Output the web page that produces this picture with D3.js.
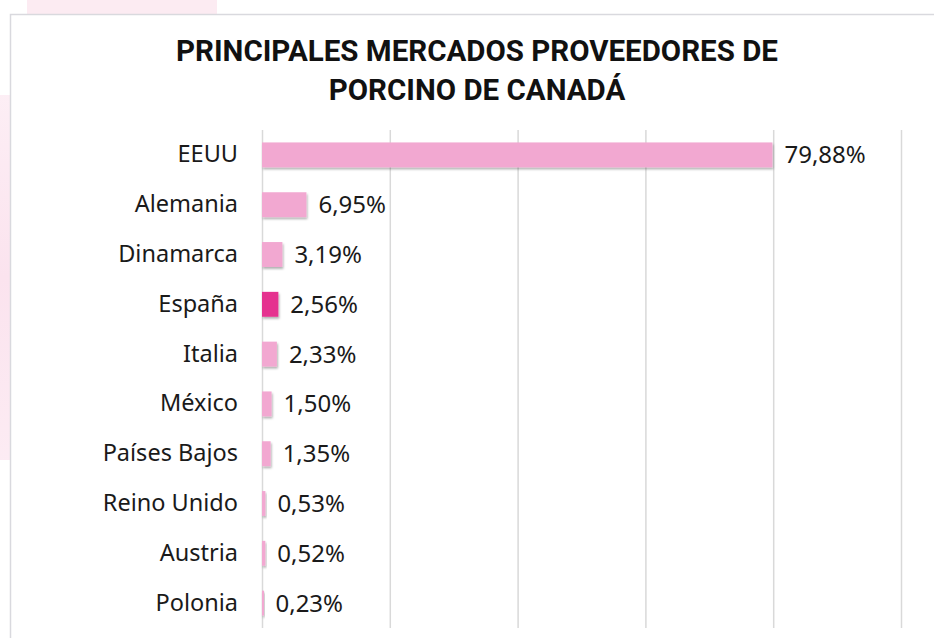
<!DOCTYPE html>
<html>
<head>
<meta charset="utf-8">
<script src="https://cdn.jsdelivr.net/npm/d3@7"></script>
<style>
  body { margin: 0; background: #fff; }
  svg { display: block; }
</style>
</head>
<body>
<div id="chart"></div>
<script>
var svgWidth = 934;
var svgHeight = 638;

// data
var countries = ['EEUU', 'Alemania', 'Dinamarca', 'España', 'Italia', 'México', 'Países Bajos', 'Reino Unido', 'Austria', 'Polonia'];
var shares = [79.88, 6.95, 3.19, 2.56, 2.33, 1.50, 1.35, 0.53, 0.52, 0.23];
var highlight = 'España';
var xTicks = [0, 20, 40, 60, 80, 100];
var titleLines = ['PRINCIPALES MERCADOS PROVEEDORES DE', 'PORCINO DE CANADÁ'];

var data = countries.map((c, i) => ({country: c, value: shares[i]}));

var margin = {top: 130, bottom: 10, left: 262, right: 33};
var chartWidth = svgWidth - margin.left - margin.right;
var chartHeight = svgHeight - margin.top - margin.bottom;

var svg = d3.select('#chart')
    .append('svg')
    .attr('width', svgWidth)
    .attr('height', svgHeight);

// shadow filter for the bars
var defs = svg.append('defs');
var shadow = defs.append('filter')
    .attr('id', 'shadow')
    .attr('x', '-20%').attr('y', '-20%')
    .attr('width', '160%').attr('height', '160%');
shadow.append('feDropShadow')
    .attr('dx', 1).attr('dy', 2)
    .attr('stdDeviation', 1.2)
    .attr('flood-color', '#000')
    .attr('flood-opacity', 0.3);

var fade = defs.append('linearGradient')
    .attr('id', 'fade').attr('x1', 0).attr('x2', 0).attr('y1', 0).attr('y2', 1);
fade.append('stop').attr('offset', '0%').attr('stop-color', '#fbe3ee').attr('stop-opacity', 0.6);
fade.append('stop').attr('offset', '50%').attr('stop-color', '#fbe3ee').attr('stop-opacity', 1);
fade.append('stop').attr('offset', '100%').attr('stop-color', '#fbe3ee').attr('stop-opacity', 0.7);

// background pink decorations behind the frame
svg.append('rect')
    .attr('x', 27).attr('y', 0)
    .attr('width', 190).attr('height', 14)
    .attr('fill', '#fcebf2');
svg.append('rect')
    .attr('x', 0).attr('y', 95)
    .attr('width', 10).attr('height', 365)
    .attr('fill', 'url(#fade)');

// chart frame
svg.append('rect')
    .attr('x', 10.5).attr('y', 14.5)
    .attr('width', 940).attr('height', 640)
    .attr('fill', '#fff')
    .attr('stroke', '#d9d9de')
    .attr('stroke-width', 1.5);

// title
var title = svg.append('text')
    .attr('text-anchor', 'middle')
    .attr('font-family', '"Liberation Sans Narrow", "Roboto", sans-serif')
    .attr('font-weight', 'bold')
    .attr('font-size', '29.5px')
    .attr('fill', '#111');
title.selectAll('tspan')
    .data(titleLines)
    .enter()
    .append('tspan')
    .attr('x', 477)
    .attr('y', (d, i) => 61 + i * 39)
    .text(d => d);

var chartGroup = svg.append('g')
    .attr('transform', `translate(${margin.left},${margin.top})`);

var xLinearScale = d3.scaleLinear()
    .domain([0, 100])
    .range([0, chartWidth]);

var yBandScale = d3.scaleBand()
    .domain(countries)
    .range([0, chartHeight])
    .paddingInner(0.5)
    .paddingOuter(0.25);

// gridlines
var grid = chartGroup.append('g')
    .call(d3.axisBottom(xLinearScale).tickValues(xTicks).tickSize(chartHeight).tickFormat(''));
grid.select('.domain').remove();
grid.selectAll('line')
    .attr('stroke', '#d9d9d9')
    .attr('stroke-width', 1.5);

// category axis
var yAxis = chartGroup.append('g')
    .call(d3.axisLeft(yBandScale).tickSize(0).tickPadding(24));
yAxis.select('.domain').remove();
yAxis.selectAll('text')
    .attr('font-family', '"Noto Sans", sans-serif')
    .attr('font-size', '23.5px')
    .attr('fill', '#1a1a1a');

// bars
chartGroup.selectAll('.bar')
    .data(data)
    .enter()
    .append('rect')
    .attr('class', 'bar')
    .attr('x', 0)
    .attr('y', d => yBandScale(d.country))
    .attr('width', d => Math.max(xLinearScale(d.value), 2))
    .attr('height', yBandScale.bandwidth())
    .attr('fill', d => d.country === highlight ? '#e5308f' : '#f2a8d1')
    .attr('filter', 'url(#shadow)');

// value labels
chartGroup.selectAll('.valueText')
    .data(data)
    .enter()
    .append('text')
    .attr('class', 'valueText')
    .attr('x', d => xLinearScale(d.value) + 12)
    .attr('y', d => yBandScale(d.country) + yBandScale.bandwidth() / 2)
    .attr('dy', '0.35em')
    .attr('font-family', '"Noto Sans", sans-serif')
    .attr('font-size', '24px')
    .attr('fill', '#1a1a1a')
    .text(d => d3.format('.2f')(d.value).replace('.', ',') + '%');
</script>
</body>
</html>
